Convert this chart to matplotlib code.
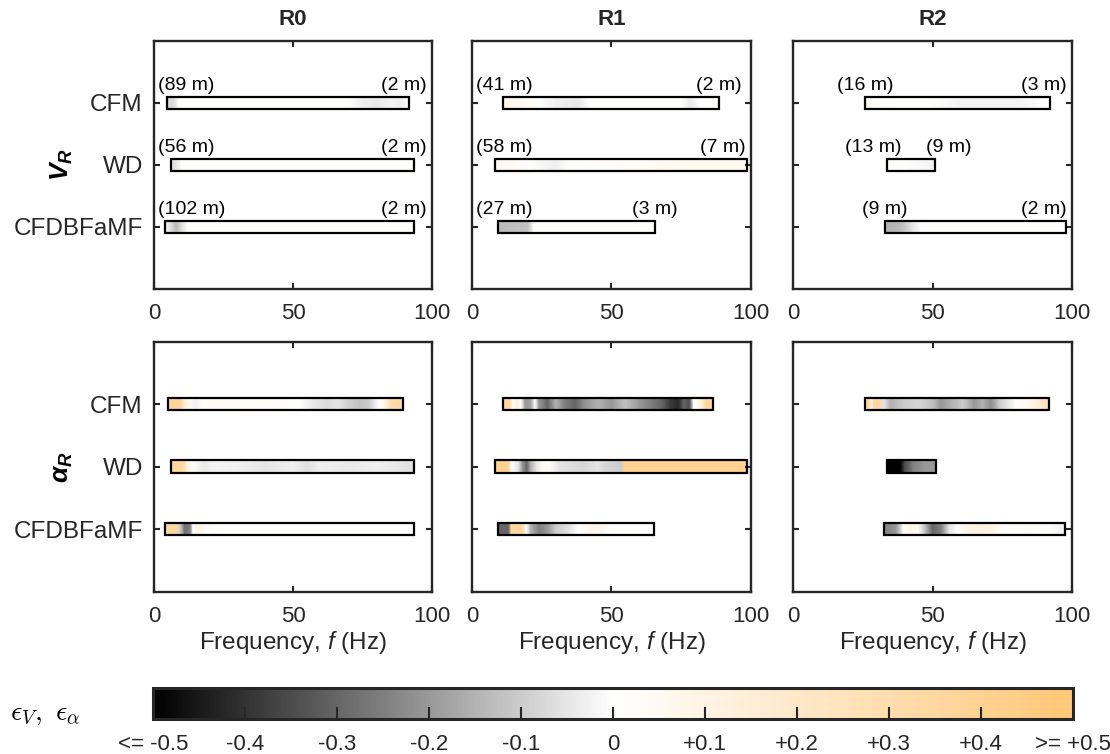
import numpy as np
import matplotlib
matplotlib.use('Agg')
import matplotlib.pyplot as plt
from matplotlib.colors import LinearSegmentedColormap, Normalize
from matplotlib.patches import Rectangle
import matplotlib.cm as cm

plt.rcParams['font.family'] = ['Liberation Sans', 'DejaVu Sans']
plt.rcParams['mathtext.fontset'] = 'custom'
plt.rcParams['mathtext.rm'] = 'Liberation Sans'
plt.rcParams['mathtext.it'] = 'Liberation Sans:italic'
plt.rcParams['mathtext.bf'] = 'Liberation Sans:bold'
plt.rcParams['mathtext.bfit'] = 'Liberation Sans:italic:bold'

INK = '#262626'

regions = ['R0', 'R1', 'R2']
methods = ['CFM', 'WD', 'CFDBFaMF']

# wavelength range (max, min) in m covered by each method
lam_r0 = [(89, 2), (56, 2), (102, 2)]
lam_r1 = [(41, 2), (58, 7), (27, 3)]
lam_r2 = [(16, 3), (13, 9), (9, 2)]

# ---- V_R relative error along frequency (Hz) ----
vr_r0_cfm_f = [4.6, 7.0, 9.0, 40, 70, 75, 80, 85, 88, 91.5]
vr_r0_cfm_e = [-0.08, -0.07, 0.0, 0.0, 0.0, -0.03, -0.04, -0.02, -0.03, 0.0]
vr_r0_wd_f = [6.0, 8.0, 10.0, 50, 93.5]
vr_r0_wd_e = [-0.07, -0.05, 0.0, 0.0, 0.0]
vr_r0_cfdb_f = [4.0, 6.0, 8.0, 10.0, 12.0, 15.0, 93.5]
vr_r0_cfdb_e = [-0.02, -0.06, -0.14, -0.06, 0.02, 0.0, 0.0]

vr_r1_cfm_f = [11.2, 18, 24, 30, 38, 42, 75, 78, 82, 88.6]
vr_r1_cfm_e = [0.06, 0.05, 0.0, -0.03, -0.04, 0.0, 0.0, -0.04, 0.0, 0.0]
vr_r1_wd_f = [8.2, 15, 20, 30, 35, 60, 80, 90, 98.6]
vr_r1_wd_e = [0.06, 0.04, 0.0, -0.03, 0.0, 0.03, 0.06, 0.06, 0.05]
vr_r1_cfdb_f = [9.2, 20, 22, 65.5]
vr_r1_cfdb_e = [-0.13, -0.12, 0.0, 0.0]

vr_r2_cfm_f = [25.8, 30, 35, 50, 60, 80, 92.3]
vr_r2_cfm_e = [0.04, 0.02, 0.0, 0.0, -0.02, -0.02, 0.0]
vr_r2_wd_f = [33.7, 40, 51.0]
vr_r2_wd_e = [0.02, 0.0, -0.02]
vr_r2_cfdb_f = [32.9, 38, 43, 46, 97.9]
vr_r2_cfdb_e = [-0.15, -0.14, -0.05, 0.0, 0.0]

# ---- alpha_R relative error along frequency (Hz) ----
ar_r0_cfm_f = [4.9, 9.5, 11, 13, 15, 17, 25, 35, 45, 52, 57, 62, 66, 70, 74, 77, 79, 81, 83, 85, 89.5]
ar_r0_cfm_e = [0.38, 0.38, 0.15, 0.05, -0.03, 0.02, 0.04, 0.03, 0.02, 0.0, -0.04, -0.07, -0.05,
               -0.09, -0.12, -0.1, -0.05, 0.0, 0.1, 0.3, 0.35]
ar_r0_wd_f = [6.0, 10.5, 12, 14, 18, 21, 30, 40, 50, 55, 60, 70, 80, 88, 93.5]
ar_r0_wd_e = [0.35, 0.35, 0.1, 0.02, -0.04, -0.02, -0.03, -0.05, -0.03, -0.06, -0.03, -0.04, -0.03, -0.05, -0.06]
ar_r0_cfdb_f = [4.0, 8.0, 9.5, 11, 13, 14, 15.5, 18, 22, 93.5]
ar_r0_cfdb_e = [0.35, 0.35, -0.1, -0.28, -0.25, 0.0, 0.1, 0.05, 0.0, 0.0]

ar_r1_cfm_f = [11.1, 13.5, 14.5, 16, 17.5, 19, 21, 22.5, 24, 27, 30, 33, 37, 40, 45, 50, 55, 60,
               64, 68, 71, 74, 76, 78, 79.5, 82, 84, 86.6]
ar_r1_cfm_e = [0.35, 0.35, 0.0, 0.15, 0.0, -0.2, -0.18, 0.0, -0.2, -0.3, -0.15, -0.25, -0.3, -0.22,
               -0.15, -0.2, -0.12, -0.2, -0.25, -0.3, -0.38, -0.42, -0.3, -0.35, 0.0, 0.1, 0.35, 0.35]
ar_r1_wd_f = [8.0, 13, 14, 16.5, 18, 19.5, 21, 23, 25, 28, 31, 40, 45, 48, 53.5, 54.6, 98.5]
ar_r1_wd_e = [0.4, 0.4, 0.0, -0.05, -0.2, -0.3, -0.15, -0.05, 0.05, 0.03, -0.05, -0.08, -0.05, -0.08, -0.1, 0.4, 0.4]
ar_r1_cfdb_f = [9.1, 13, 14, 18, 19.5, 21, 24, 27, 30, 35, 38, 42, 46, 49, 65.3]
ar_r1_cfdb_e = [-0.3, -0.3, 0.35, 0.35, 0.0, -0.15, -0.25, -0.2, -0.1, -0.05, 0.0, 0.06, 0.08, 0.0, 0.0]

ar_r2_cfm_f = [25.7, 27, 28, 29, 31, 32.5, 35, 40, 45, 50, 53, 57, 61, 65, 68, 71, 74, 77, 80, 84, 88, 92.0]
ar_r2_cfm_e = [0.35, 0.35, 0.1, 0.35, 0.35, -0.05, -0.15, -0.1, -0.08, -0.12, -0.2, -0.15, -0.1, -0.2,
               -0.15, -0.22, -0.1, -0.05, 0.0, 0.05, 0.15, 0.3]
ar_r2_wd_f = [33.6, 38.5, 40, 43, 47, 51.1]
ar_r2_wd_e = [-0.5, -0.5, -0.35, -0.25, -0.2, -0.2]
ar_r2_cfdb_f = [32.5, 37, 39.5, 42, 45, 47, 50, 53, 56, 59, 63, 68, 72, 76, 85, 92, 97.6]
ar_r2_cfdb_e = [-0.25, -0.2, 0.0, 0.08, 0.05, -0.1, -0.3, -0.25, -0.05, 0.0, 0.1, 0.12, 0.08, 0.0, 0.02, 0.0, -0.03]

vr = {
    'R0': [(vr_r0_cfm_f, vr_r0_cfm_e), (vr_r0_wd_f, vr_r0_wd_e), (vr_r0_cfdb_f, vr_r0_cfdb_e)],
    'R1': [(vr_r1_cfm_f, vr_r1_cfm_e), (vr_r1_wd_f, vr_r1_wd_e), (vr_r1_cfdb_f, vr_r1_cfdb_e)],
    'R2': [(vr_r2_cfm_f, vr_r2_cfm_e), (vr_r2_wd_f, vr_r2_wd_e), (vr_r2_cfdb_f, vr_r2_cfdb_e)],
}
ar = {
    'R0': [(ar_r0_cfm_f, ar_r0_cfm_e), (ar_r0_wd_f, ar_r0_wd_e), (ar_r0_cfdb_f, ar_r0_cfdb_e)],
    'R1': [(ar_r1_cfm_f, ar_r1_cfm_e), (ar_r1_wd_f, ar_r1_wd_e), (ar_r1_cfdb_f, ar_r1_cfdb_e)],
    'R2': [(ar_r2_cfm_f, ar_r2_cfm_e), (ar_r2_wd_f, ar_r2_wd_e), (ar_r2_cfdb_f, ar_r2_cfdb_e)],
}
lams = {'R0': lam_r0, 'R1': lam_r1, 'R2': lam_r2}

cmap = LinearSegmentedColormap.from_list(
    'err', [(0.0, (0, 0, 0)), (0.5, (1, 1, 1)), (1.0, (1.0, 0.78, 0.47))])
norm = Normalize(-0.5, 0.5)
bar_h = 0.2

fig = plt.figure(figsize=(11.1, 7.54), dpi=100)
col_left = [0.1387, 0.4255, 0.7147]
row_pos = [(0.6167, 0.3293), (0.2153, 0.3316)]


def style_axes(ax, first_col, bottom_row):
    ax.set_xlim(0, 100)
    ax.set_ylim(4, 0)
    ax.set_xticks([0, 50, 100])
    ax.set_yticks([1, 2, 3])
    ax.set_yticklabels(methods if first_col else [])
    ax.tick_params(direction='in', length=4, width=1.5, top=True, right=True, colors=INK)
    ax.tick_params(axis='x', pad=10, labelsize=16)
    ax.tick_params(axis='y', pad=8, labelsize=17.5)
    for sp in ax.spines.values():
        sp.set_linewidth(1.7)
        sp.set_color(INK)
    if bottom_row:
        ax.set_xlabel('Frequency, $f$ (Hz)', fontsize=17.5, color=INK, labelpad=2)


def draw_bar(ax, y, f, e):
    f = np.asarray(f)
    e = np.asarray(e)
    X = np.vstack([f, f])
    Y = np.vstack([np.full_like(f, y - bar_h / 2), np.full_like(f, y + bar_h / 2)])
    C = np.vstack([e, e])
    ax.pcolormesh(X, Y, C, cmap=cmap, norm=norm, shading='gouraud')
    ax.add_patch(Rectangle((f[0], y - bar_h / 2), f[-1] - f[0], bar_h,
                           fill=False, ec='k', lw=1.6, zorder=3))


label_jobs = []
for r, (data, ylab) in enumerate([(vr, r'$\mathbfit{V}_{\mathbfit{R}}$'),
                                  (ar, r'$\mathbfit{\alpha}_{\mathbfit{R}}$')]):
    bottom, height = row_pos[r]
    for c, reg in enumerate(regions):
        ax = fig.add_axes([col_left[c], bottom, 0.2508, height])
        style_axes(ax, c == 0, r == 1)
        if r == 0:
            ax.set_title(reg, fontsize=16, fontweight='bold', color=INK, pad=11)
        if c == 0:
            ax.set_ylabel(ylab, fontsize=19, color='k')
            ax.yaxis.set_label_coords(-0.285, 0.5)
        for i, (f, e) in enumerate(data[reg]):
            y = i + 1
            draw_bar(ax, y, f, e)
            if r == 0:
                lmax, lmin = lams[reg][i]
                t0 = ax.text(f[0], y - bar_h / 2 - 0.04, f'({lmax} m)', ha='center',
                             va='bottom', fontsize=14, color='k')
                t1 = ax.text(f[-1], y - bar_h / 2 - 0.04, f'({lmin} m)', ha='center',
                             va='bottom', fontsize=14, color='k')
                label_jobs.append((ax, t0, t1, f[0], f[-1]))

# keep the wavelength labels inside the panel and apart from each other
fig.canvas.draw()
rend = fig.canvas.get_renderer()
for ax, t0, t1, f0, f1 in label_jobs:
    inv = ax.transData.inverted()

    def width(t):
        bb = t.get_window_extent(rend)
        return inv.transform((bb.x1, 0))[0] - inv.transform((bb.x0, 0))[0]

    w0, w1 = width(t0), width(t1)
    c0 = max(f0, w0 / 2 + 1.5)
    c1 = min(f1, 100 - w1 / 2 - 2.0)
    gap = (c1 - w1 / 2) - (c0 + w0 / 2)
    if gap < 9:
        shift = (9 - gap) / 2
        c0 -= shift
        c1 += shift
    t0.set_x(c0)
    t1.set_x(c1)

# colour bar
cax = fig.add_axes([0.1378, 0.0464, 0.8288, 0.0411])
cb = fig.colorbar(cm.ScalarMappable(norm=norm, cmap=cmap), cax=cax, orientation='horizontal')
ticks = np.round(np.arange(-0.5, 0.51, 0.1), 1)
cb.set_ticks(ticks)
tlabels = []
for t in ticks:
    if t <= -0.5:
        tlabels.append('<= -0.5')
    elif t >= 0.5:
        tlabels.append('>= +0.5')
    elif t > 0:
        tlabels.append(f'+{t:.1f}')
    elif t == 0:
        tlabels.append('0')
    else:
        tlabels.append(f'{t:.1f}')
cb.set_ticklabels(tlabels)
cax.tick_params(direction='in', length=9, width=1.5, colors=INK, labelsize=16, pad=11)
for tk in (cax.xaxis.get_major_ticks()[0], cax.xaxis.get_major_ticks()[-1]):
    tk.tick1line.set_visible(False)
cb.outline.set_linewidth(2.2)
cb.outline.set_edgecolor(INK)
fig.text(0.009, 0.053, r'$\epsilon_V,\ \epsilon_\alpha$', math_fontfamily='cm',
         fontsize=20, color='k', ha='left', va='center')

fig.savefig('out.png', dpi=100)
